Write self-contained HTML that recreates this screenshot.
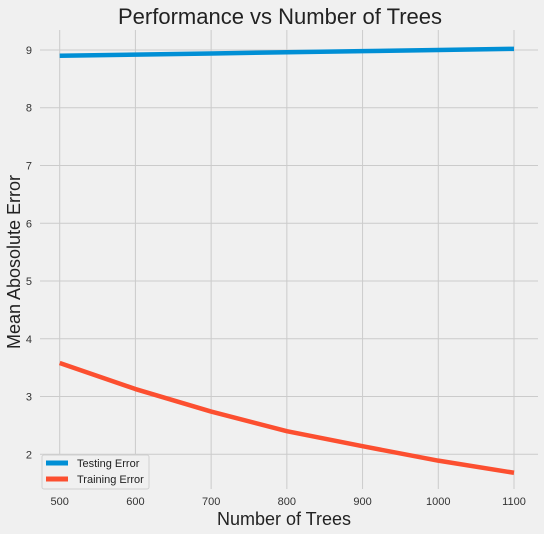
<!DOCTYPE html>
<html><head><meta charset="utf-8"><style>
body{margin:0;background:#f0f0f0;font-family:"Liberation Sans",sans-serif}
</style></head><body>
<svg id="c" width="544" height="534" style="display:block;background:#f0f0f0">
<text x="280" y="24" text-anchor="middle" font-size="22" fill="#222">Performance vs Number of Trees</text>
<text x="284" y="525" text-anchor="middle" font-size="18" fill="#222">Number of Trees</text>
<text transform="translate(20,262) rotate(-90)" text-anchor="middle" font-size="18" fill="#222">Mean Abosolute Error</text>
<g id="grid"></g><g id="lines"></g>
<g>
<rect x="42" y="455" width="107" height="34" rx="2" fill="#f0f0f0" stroke="#d0d0d0"/>
<line x1="46" y1="463" x2="68" y2="463" stroke="#008fd5" stroke-width="5"/>
<text x="77" y="467" font-size="11" fill="#222">Testing Error</text>
<line x1="46" y1="479" x2="68" y2="479" stroke="#fc4f30" stroke-width="5"/>
<text x="77" y="483" font-size="11" fill="#222">Training Error</text>
</g>
</svg>
<script>
const trees=[500,600,700,800,900,1000,1100];
const testing=[8.90,8.92,8.94,8.96,8.98,9.00,9.02];
const training=[3.58,3.13,2.74,2.40,2.14,1.89,1.68];
const xTicks=[500,600,700,800,900,1000,1100];
const yTicks=[2,3,4,5,6,7,8,9];
const NS="http://www.w3.org/2000/svg";
const X=v=>59.7+(v-500)*(514-59.7)/600;
const Y=v=>454.3-(v-2)*57.76;
const g=document.getElementById('grid'),L=document.getElementById('lines');
function mk(p,tag,a){const e=document.createElementNS(NS,tag);for(const k in a)e.setAttribute(k,a[k]);p.appendChild(e);return e;}
xTicks.forEach(t=>{
 const l=mk(g,'line',{x1:X(t),x2:X(t),y1:30,y2:489,stroke:'#cbcbcb','stroke-width':1});
 
 
 const tx=mk(g,'text',{x:X(t),y:505,'text-anchor':'middle','font-size':11,fill:'#333'});tx.textContent=t;
 
 
});
yTicks.forEach(t=>{
 const l=mk(g,'line',{x1:40,x2:538,y1:Y(t),y2:Y(t),stroke:'#cbcbcb','stroke-width':1});
 
 
 const tx=mk(g,'text',{x:32,y:Y(t)+4,'text-anchor':'end','font-size':11,fill:'#333'});tx.textContent=t;
 
 
});
function line(vals,col,name){
 const p=mk(L,'polyline',{points:trees.map((t,i)=>X(t)+','+Y(vals[i])).join(' '),fill:'none',stroke:col,'stroke-width':4.5,'stroke-linejoin':'round'});
 
 
}
line(testing,'#008fd5','testing-error-line');
line(training,'#fc4f30','training-error-line');
</script>
</body></html>
